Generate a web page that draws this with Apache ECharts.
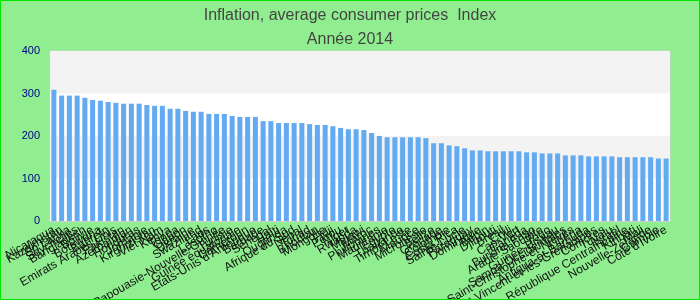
<!DOCTYPE html>
<html>
<head>
<meta charset="utf-8">
<script src="https://cdn.jsdelivr.net/npm/echarts@6/dist/echarts.min.js"></script>
<style>
html,body{margin:0;padding:0;}
#chart{width:700px;height:300px;box-sizing:border-box;border:1px solid #00e600;background:#90ee90;}
</style>
</head>
<body>
<div id="chart"></div>
<script>
var titleText = 'Inflation, average consumer prices  Index';
var subtitleText = 'Année 2014';
var categories = ['Nicaragua','Kazakhstan','Sri Lanka','Seychelles','Bangladesh','Bolivie','Botswana','Bahreïn','Emirats Arabes Unis','Pakistan',
'Azerbaïdjan','Honduras','Jordanie','Kirghizistan','Viêt Nam','Kenya','Tonga','Gabon','Ukraine','Swaziland',
'Laos','Lesotho','Papouasie-Nouvelle-Guinée','Tunisie','Guinée équatoriale','Cameroun','Etats-Unis d\'Amérique','Barbade','Sénégal','Haïti',
'Ouganda','Afrique du Sud','Népal','Tchad','Bhoutan','Mongolie','Fidji','Pérou','Niger','Rwanda',
'Malawi','Maroc','Philippines','Mauritanie','Égypte','Thaïlande','Timor-Leste','Maurice','Micronésie','Belize',
'Grenade','Colombie','Costa Rica','Sainte-Lucie','Paraguay','Dominique','Bénin','Djibouti','Brésil','Chili',
'Cap-Vert','Canada','Burkina Faso','Arabie Saoudite','Togo','Guinée-Bissau','Samoa Occidentales','Saint-Christophe-et-Niévès','Libéria','Antigua-et-Barbuda',
'Saint-Vincent-et-les-Grenadines','Comores','Tuvalu','Israël','République Centrafricaine','Kiribati','Mali','Nouvelle-Zélande','Gambie','Côte d\'Ivoire'];
var values = [309,295,295,295,290,285,283,280,278,276,
276,276,273,271,271,264,264,259,257,257,
252,252,252,247,245,245,245,235,235,230.5,
230.5,230.5,230.5,228,226,226,223,219,216,216,
214,207,200,197,197,197,197,197,195,183,
183,178,176,171,166,166,164,164,164,164,
164,161.6,161.6,159,159,159,154.5,154.5,154.5,152,
152,152,152,150,150,150,150,150,147,147];
var yTicks = [0,100,200,300,400];

var chart = echarts.init(document.getElementById('chart'));
chart.setOption({
  backgroundColor: '#90ee90',
  animation: false,
  title: [
    {text: titleText, left: 'center', top: 2, textStyle: {fontFamily: 'Arial', fontSize: 16, fontWeight: 'normal', color: '#444'}},
    {text: subtitleText, left: 'center', top: 26, textStyle: {fontFamily: 'Arial', fontSize: 16, fontWeight: 'normal', color: '#444'}}
  ],
  grid: {left: 49, right: 29, top: 50, bottom: 78, show: true, borderColor: '#d0d0d0', borderWidth: 1, backgroundColor: '#ffffff', containLabel: false, outerBoundsMode: 'none'},
  xAxis: {
    type: 'category', data: categories,
    axisTick: {show: false},
    axisLine: {show: true, lineStyle: {color: '#d0d0d0'}},
    axisLabel: {interval: 0, rotate: 30, fontSize: 12, color: '#111', margin: 8}
  },
  yAxis: {
    type: 'value', min: yTicks[0], max: yTicks[yTicks.length-1], interval: 100,
    axisLine: {show: false}, axisTick: {show: false},
    axisLabel: {fontSize: 11, color: '#00008b', margin: 10},
    splitLine: {show: false},
    splitArea: {show: true, areaStyle: {color: ['#ffffff', '#f3f3f3']}}
  },
  series: [{
    type: 'bar', data: values, barCategoryGap: '35%',
    itemStyle: {color: '#64aaf0'}
  }]
});
</script>
</body>
</html>
